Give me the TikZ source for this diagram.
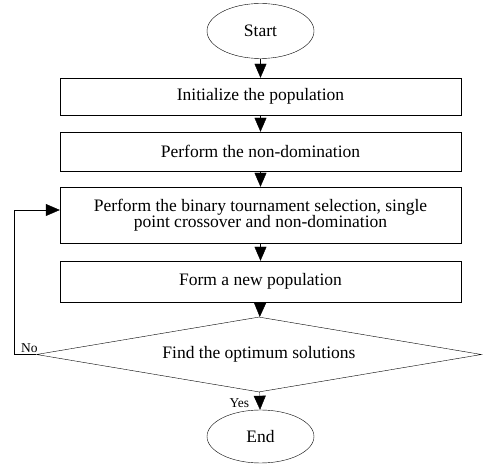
\documentclass[tikz,border=0pt]{standalone}
\usepackage{fontspec}
\setmainfont{Liberation Serif}
\usetikzlibrary{
	arrows.meta,
	shapes.geometric,
	positioning
}

\begin{document}
\begin{tikzpicture}[x=1pt, y=1pt,
		every node/.style={font=\fontsize{17.5}{16}\selectfont},
		stepbox/.style={draw, rectangle, minimum width=401pt, inner sep=2pt, align=center},
		terminal/.style={draw, ellipse, minimum width=107pt, minimum height=55pt},
		decision/.style={draw, diamond, shape aspect=5.93, minimum width=445pt, minimum height=75pt, inner sep=0pt},
		flow/.style={-{Triangle[width=12pt,length=14pt]}},
		tag/.style={font=\fontsize{13.5}{13.5}\selectfont, inner sep=1.5pt}]
	\useasboundingbox (0,0) rectangle (483,464);
	\node[terminal] (start) at (260.5,433) {Start};
	\node[stepbox, minimum height=37pt] (init) at (260.5,367.5) {Initialize the population};
	\node[stepbox, minimum height=39pt] (nondom) at (260.5,312.5) {Perform the non-domination};
	\node[stepbox, minimum height=56pt] (select) at (260.5,249) {Perform the binary tournament selection, single\\point crossover and non-domination};
	\node[stepbox, minimum height=41pt] (form) at (260.5,182.5) {Form a new population};
	\node[decision] (find) at (259,109.5) {Find the optimum solutions};
	\node[terminal, minimum height=53pt] (end) at (260.5,27.5) {End};
	\draw[flow] (start) -- (init);
	\draw[flow] (init) -- (nondom);
	\draw[flow] (nondom) -- (select);
	\draw[flow] (select) -- (form);
	\draw[flow] (form) -- (find);
	\draw[flow] (find) -- node[left, tag, xshift=-9pt, yshift=-2pt] {Yes} (end);
	% loop back when no optimum is found
	\draw[flow] (find.west) -- node[above, tag, xshift=4pt] {No} ++(-22,0) |- ([yshift=5pt]select.west);
\end{tikzpicture}
\end{document}
